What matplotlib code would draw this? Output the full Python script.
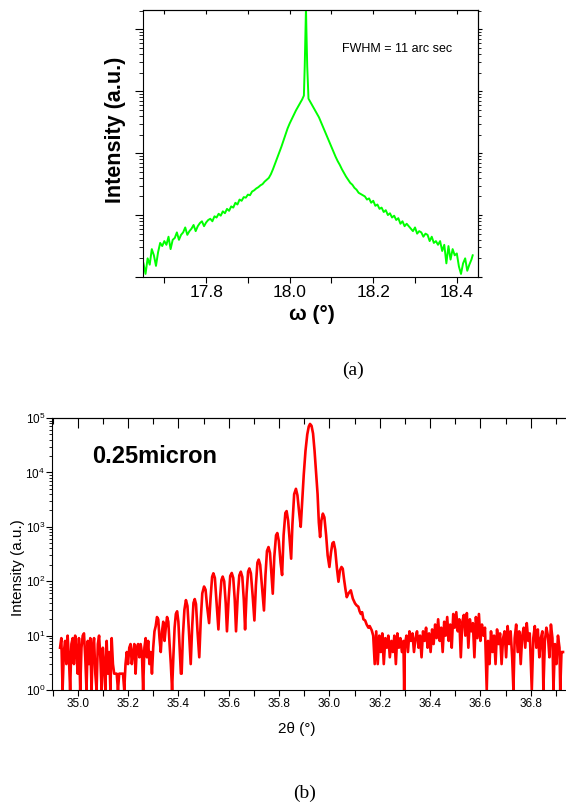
import matplotlib
matplotlib.use("Agg")
import matplotlib.pyplot as plt
from matplotlib.ticker import MultipleLocator, LogLocator, NullFormatter

plt.rcParams['font.family'] = ['Liberation Sans', 'DejaVu Sans']
plt.rcParams['mathtext.default'] = 'regular'

# ---- (a) omega rocking curve ------------------------------------------------
omega = [
    17.650, 17.655, 17.660, 17.665, 17.670, 17.675, 17.680, 17.685, 17.690, 17.695,
    17.700, 17.705, 17.710, 17.715, 17.720, 17.725, 17.730, 17.735, 17.740, 17.745,
    17.750, 17.755, 17.760, 17.765, 17.770, 17.775, 17.780, 17.785, 17.790, 17.795,
    17.800, 17.805, 17.810, 17.815, 17.820, 17.825, 17.830, 17.835, 17.840, 17.845,
    17.850, 17.855, 17.860, 17.865, 17.870, 17.875, 17.880, 17.885, 17.890, 17.895,
    17.900, 17.905, 17.910, 17.915, 17.920, 17.925, 17.930, 17.935, 17.940, 17.945,
    17.950, 17.955, 17.960, 17.965, 17.970, 17.975, 17.980, 17.985, 17.990, 17.995,
    18.000, 18.005, 18.010, 18.015, 18.020, 18.025, 18.030, 18.034, 18.036, 18.038,
    18.039, 18.040, 18.042, 18.045, 18.050, 18.055, 18.060, 18.065, 18.070, 18.075,
    18.080, 18.085, 18.090, 18.095, 18.100, 18.105, 18.110, 18.115, 18.120, 18.125,
    18.130, 18.135, 18.140, 18.145, 18.150, 18.155, 18.160, 18.165, 18.170, 18.175,
    18.180, 18.185, 18.190, 18.195, 18.200, 18.205, 18.210, 18.215, 18.220, 18.225,
    18.230, 18.235, 18.240, 18.245, 18.250, 18.255, 18.260, 18.265, 18.270, 18.275,
    18.280, 18.285, 18.290, 18.295, 18.300, 18.305, 18.310, 18.315, 18.320, 18.325,
    18.330, 18.335, 18.340, 18.345, 18.350, 18.355, 18.360, 18.365, 18.370, 18.375,
    18.380, 18.385, 18.390, 18.395, 18.400, 18.405, 18.410, 18.415, 18.420, 18.425,
    18.430, 18.435, 18.438,
]
omega_counts = [
    1.66, 1.12, 2.0, 1.58, 2.82, 2.24, 1.51, 2.51, 3.55, 3.16,
    3.80, 3.31, 4.47, 2.82, 3.98, 4.27, 5.25, 3.98, 4.79, 5.25,
    6.31, 4.79, 5.50, 6.03, 6.92, 5.50, 6.61, 7.41, 7.94, 6.61,
    7.59, 8.32, 8.71, 7.94, 9.55, 9.12, 10.5, 9.77, 11.5, 10.7,
    12.6, 11.7, 13.8, 13.2, 15.8, 14.8, 17.8, 17.0, 19.5, 19.1,
    21.4, 20.9, 24.0, 25.1, 26.9, 28.2, 30.2, 31.6, 34.7, 37.2,
    39.8, 45.7, 55.0, 67.6, 83.2, 102, 126, 158, 200, 251,
    302, 355, 417, 490, 562, 646, 741, 851, 2512, 10000,
    22400, 10000, 2512, 759, 661, 575, 501, 437, 380, 316,
    263, 219, 182, 151, 126, 105, 87.1, 74.1, 64.6, 55.0,
    47.9, 41.7, 37.2, 33.1, 30.9, 27.5, 25.7, 22.9, 21.9, 20.9,
    20.0, 17.8, 18.6, 15.8, 17.0, 14.1, 14.8, 12.6, 13.2, 11.2,
    12.0, 10.0, 10.7, 9.12, 9.77, 8.32, 8.91, 7.24, 7.94, 6.61,
    7.24, 6.61, 6.03, 5.50, 6.31, 5.01, 5.50, 5.25, 4.47, 5.01,
    4.79, 3.80, 4.47, 3.55, 3.80, 3.31, 3.80, 2.63, 3.31, 1.66,
    3.16, 1.91, 2.82, 2.24, 2.40, 1.48, 1.12, 1.66, 2.0, 1.26,
    1.58, 1.91, 2.24,
]
fwhm_note = "FWHM = 11 arc sec"

# ---- (b) 2theta-omega scan with thickness fringes ----------------------------
two_theta = [
    34.930, 34.935, 34.940, 34.945, 34.950, 34.955, 34.960, 34.965, 34.970, 34.975,
    34.980, 34.985, 34.990, 34.995, 35.000, 35.005, 35.010, 35.015, 35.020, 35.025,
    35.030, 35.035, 35.040, 35.045, 35.050, 35.055, 35.060, 35.065, 35.070, 35.075,
    35.080, 35.085, 35.090, 35.095, 35.100, 35.105, 35.110, 35.115, 35.120, 35.125,
    35.130, 35.135, 35.140, 35.145, 35.150, 35.155, 35.160, 35.165, 35.170, 35.175,
    35.180, 35.185, 35.190, 35.195, 35.200, 35.205, 35.210, 35.215, 35.220, 35.225,
    35.230, 35.235, 35.240, 35.245, 35.250, 35.255, 35.260, 35.265, 35.270, 35.275,
    35.280, 35.285, 35.290, 35.295, 35.300, 35.305, 35.310, 35.315, 35.320, 35.325,
    35.330, 35.335, 35.340, 35.345, 35.350, 35.355, 35.360, 35.365, 35.370, 35.375,
    35.380, 35.385, 35.390, 35.395, 35.400, 35.405, 35.410, 35.413, 35.418, 35.424,
    35.430, 35.436, 35.442, 35.449, 35.455, 35.460, 35.465, 35.470, 35.476, 35.483,
    35.489, 35.495, 35.502, 35.508, 35.514, 35.522, 35.528, 35.534, 35.539, 35.545,
    35.551, 35.559, 35.565, 35.571, 35.576, 35.582, 35.588, 35.593, 35.600, 35.606,
    35.612, 35.618, 35.624, 35.629, 35.636, 35.642, 35.648, 35.654, 35.660, 35.665,
    35.671, 35.677, 35.682, 35.688, 35.695, 35.702, 35.708, 35.714, 35.719, 35.725,
    35.732, 35.740, 35.746, 35.752, 35.758, 35.764, 35.770, 35.775, 35.781, 35.788,
    35.793, 35.799, 35.806, 35.812, 35.818, 35.825, 35.830, 35.836, 35.843, 35.848,
    35.853, 35.860, 35.867, 35.873, 35.880, 35.886, 35.892, 35.898, 35.905, 35.912,
    35.918, 35.923, 35.929, 35.935, 35.941, 35.947, 35.953, 35.958, 35.963, 35.968,
    35.974, 35.980, 35.987, 35.993, 36.000, 36.006, 36.012, 36.017, 36.023, 36.030,
    36.036, 36.042, 36.048, 36.053, 36.058, 36.064, 36.069, 36.076, 36.085, 36.093,
    36.102, 36.108, 36.115, 36.120, 36.125, 36.130, 36.135, 36.142, 36.148, 36.155,
    36.160, 36.168, 36.174, 36.180, 36.186, 36.192, 36.198, 36.204, 36.210, 36.216,
    36.222, 36.228, 36.234, 36.240, 36.246, 36.252, 36.258, 36.264, 36.270, 36.276,
    36.282, 36.288, 36.294, 36.297, 36.300, 36.306, 36.312, 36.318, 36.324, 36.330,
    36.336, 36.342, 36.348, 36.354, 36.360, 36.366, 36.372, 36.378, 36.384, 36.390,
    36.396, 36.402, 36.408, 36.414, 36.420, 36.426, 36.432, 36.438, 36.444, 36.450,
    36.456, 36.462, 36.468, 36.474, 36.480, 36.486, 36.492, 36.498, 36.504, 36.510,
    36.516, 36.522, 36.528, 36.534, 36.540, 36.546, 36.552, 36.558, 36.564, 36.570,
    36.576, 36.582, 36.588, 36.594, 36.600, 36.606, 36.612, 36.618, 36.625, 36.630,
    36.636, 36.642, 36.648, 36.654, 36.660, 36.666, 36.672, 36.678, 36.684, 36.690,
    36.696, 36.702, 36.708, 36.714, 36.720, 36.726, 36.731, 36.736, 36.742, 36.748,
    36.754, 36.760, 36.766, 36.772, 36.778, 36.784, 36.790, 36.796, 36.804, 36.810,
    36.816, 36.822, 36.828, 36.834, 36.840, 36.846, 36.850, 36.856, 36.862, 36.868,
    36.874, 36.880, 36.886, 36.890, 36.896, 36.902, 36.908, 36.914, 36.917, 36.922,
    36.928,
]
two_theta_counts = [
    6, 9, 1, 5, 8, 3, 10, 4, 1, 7,
    9, 3, 10, 5, 2, 9, 1, 6, 10, 11,
    4, 1, 8, 3, 9, 1, 6, 9, 2, 1,
    7, 10, 4, 1, 6, 3, 1, 8, 2, 5,
    1, 9, 3, 2, 2, 2, 1, 2, 2, 2,
    2, 1, 3, 5, 3, 6, 7, 3, 5, 7,
    2, 6, 7, 4, 7, 5, 1, 6, 9, 4,
    8, 3, 5, 2, 6, 12, 15, 22, 20, 9,
    5, 12, 18, 8, 14, 22, 18, 7, 3, 1,
    4, 14, 25, 28, 18, 6, 2, 2, 10, 30,
    45, 35, 12, 3, 15, 40, 47, 38, 12, 4,
    20, 60, 80, 70, 35, 17, 50, 120, 140, 115,
    45, 13, 45, 105, 122, 100, 40, 12, 50, 125,
    142, 115, 45, 12, 55, 128, 150, 120, 45, 13,
    60, 150, 172, 140, 55, 19, 85, 220, 250, 200,
    80, 29, 130, 360, 425, 330, 130, 59, 280, 700,
    770, 550, 220, 130, 700, 1800, 1950, 1300, 500, 260,
    1100, 4000, 5000, 3800, 1800, 1000, 3000, 9000, 25000, 50000,
    70000, 78000, 72000, 52000, 25000, 10000, 4000, 1200, 650, 1300,
    1750, 1500, 700, 300, 183, 330, 500, 525, 380, 170,
    98, 160, 183, 170, 110, 70, 51, 60, 68, 48,
    39, 36, 34, 28, 25, 27, 20, 19, 16, 14,
    15, 12.6, 10, 3, 12, 3, 10, 5, 11, 3,
    9, 6, 10, 4, 8, 5, 10, 3, 11, 6,
    9, 5, 8, 1, 7, 10, 5, 12, 8, 11,
    5, 9, 12, 6, 10, 4, 12, 8, 14, 6,
    11, 5, 13, 7, 16, 9, 20, 8, 14, 5,
    18, 10, 22, 8, 16, 6, 25, 14, 27, 12,
    20, 4, 18, 24, 10, 26, 6, 20, 12, 17,
    4, 22, 9, 25, 8, 16, 10, 14, 1, 8,
    3, 12, 5, 10, 3, 13, 7, 11, 3, 9,
    12, 4, 15, 7, 12, 4, 1, 9, 16, 5,
    12, 3, 10, 14, 6, 17, 8, 11, 1, 9,
    15, 6, 13, 4, 9, 12, 1, 8, 14, 10,
    4, 16, 9, 1, 7, 3, 10, 6, 1, 5,
    5,
]
film_note = "0.25micron"

fig = plt.figure(figsize=(5.66, 8.08), dpi=100)

# ---------------------------------------------------------------- panel (a)
ax1 = fig.add_axes([0.2527, 0.6572, 0.5913, 0.3304])
ax1.plot(omega, omega_counts, color='#00ff00', lw=1.4)
ax1.set_yscale('log')
ax1.set_xlim(17.649, 18.45)
ax1.set_ylim(1, 2.05e4)
ax1.xaxis.set_major_locator(MultipleLocator(0.2))
ax1.xaxis.set_minor_locator(MultipleLocator(0.1))
ax1.yaxis.set_major_locator(LogLocator(base=10))
ax1.yaxis.set_minor_locator(LogLocator(base=10, subs=range(2, 10)))
ax1.yaxis.set_major_formatter(NullFormatter())
ax1.yaxis.set_minor_formatter(NullFormatter())
ax1.tick_params(axis='x', which='both', direction='out', length=4, width=0.8,
                labelsize=12.5, pad=2)
ax1.tick_params(axis='y', which='major', direction='out', length=6, width=0.8)
ax1.tick_params(axis='y', which='minor', direction='out', length=3, width=0.6)
for s in ax1.spines.values():
    s.set_linewidth(0.8)

top1 = ax1.secondary_xaxis('top')
top1.xaxis.set_major_locator(MultipleLocator(0.1))
top1.tick_params(direction='in', length=3, width=0.8, labeltop=False)
right1 = ax1.secondary_yaxis('right')
right1.yaxis.set_major_formatter(NullFormatter())
right1.yaxis.set_minor_formatter(NullFormatter())
right1.tick_params(which='major', direction='out', length=3, width=0.8, labelright=False)
right1.tick_params(which='minor', direction='out', length=2, width=0.6, labelright=False)

ax1.set_ylabel('Intensity (a.u.)', fontsize=15.5, fontweight='bold')
ax1.yaxis.set_label_coords(-0.05, 0.55)
ax1.set_xlabel('ω (°)', fontsize=15, fontweight='bold')
ax1.xaxis.set_label_coords(0.504, -0.105)
ax1.text(0.594, 0.854, fwhm_note, transform=ax1.transAxes, fontsize=9, va='center')

fig.text(0.624, 1 - 370 / 808, '(a)', family='Liberation Serif', fontsize=14,
         ha='center', va='center')

# ---------------------------------------------------------------- panel (b)
ax2 = fig.add_axes([0.0919, 0.146, 0.9117, 0.3366])
ax2.plot(two_theta, two_theta_counts, color='#ff0000', lw=1.9)
ax2.set_yscale('log')
ax2.set_xlim(34.898, 36.948)
ax2.set_ylim(1, 1e5)
ax2.xaxis.set_major_locator(MultipleLocator(0.2))
ax2.xaxis.set_minor_locator(MultipleLocator(0.1))
ax2.xaxis.set_major_formatter(plt.FuncFormatter(lambda v, p: f"{v:.1f}"))
ax2.yaxis.set_major_locator(LogLocator(base=10))
ax2.yaxis.set_minor_locator(LogLocator(base=10, subs=range(2, 10)))
ax2.yaxis.set_minor_formatter(NullFormatter())
ax2.tick_params(axis='x', which='both', direction='out', length=4, width=0.8,
                labelsize=8.5, pad=2)
ax2.tick_params(axis='y', which='major', direction='out', length=4, width=0.8,
                labelsize=8.5, pad=1)
ax2.tick_params(axis='y', which='minor', direction='out', length=2.5, width=0.6)
for s in ax2.spines.values():
    s.set_linewidth(0.8)

top2 = ax2.secondary_xaxis('top')
top2.xaxis.set_major_locator(MultipleLocator(0.2))
top2.xaxis.set_minor_locator(MultipleLocator(0.1))
top2.tick_params(which='major', direction='in', length=7, width=0.8, labeltop=False)
top2.tick_params(which='minor', direction='in', length=4, width=0.8, labeltop=False)

ax2.set_ylabel('Intensity (a.u.)', fontsize=11)
ax2.yaxis.set_label_coords(-0.052, 0.45)
ax2.set_xlabel('2θ (°)', fontsize=11)
ax2.xaxis.set_label_coords(0.475, -0.116)
ax2.text(0.0775, 0.857, film_note, transform=ax2.transAxes, fontsize=17,
         fontweight='bold', va='center')

fig.text(305 / 566, 1 - 793 / 808, '(b)', family='Liberation Serif', fontsize=14,
         ha='center', va='center')

fig.savefig('out.png', dpi=100)
